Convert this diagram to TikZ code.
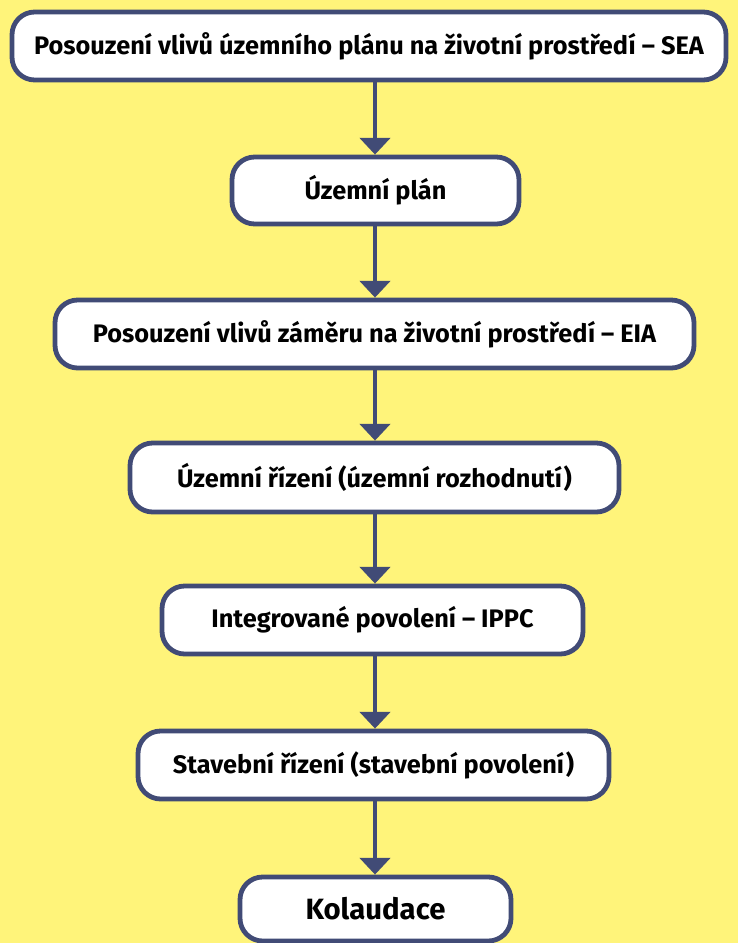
\documentclass[tikz,border=0pt]{standalone}
\usepackage{fontspec}
\setmainfont{Fira Sans}
\usetikzlibrary{arrows.meta}
\definecolor{bgy}{HTML}{FFF47A}
\definecolor{edge}{HTML}{414B76}
\begin{document}
\begin{tikzpicture}[x=0.75pt,y=-0.75pt,
  stepbox/.style={draw=edge,line width=3.6pt,fill=white,rounded corners=17pt,font=\bfseries\fontsize{19}{21}\selectfont,text=black},
  conn/.style={draw=edge,line width=3.6pt,-{Triangle[length=12.5pt,width=22.5pt]}}]
\fill[bgy] (0,0) rectangle (738,943);
\useasboundingbox (0,0) rectangle (738,943);
\node[stepbox,minimum width=714*0.75pt,minimum height=68*0.75pt] (a) at (369,46) {Posouzení vlivů územního plánu na životní prostředí – SEA};
\node[stepbox,minimum width=287*0.75pt,minimum height=67*0.75pt] (b) at (375.5,190.5) {Územní plán};
\node[stepbox,minimum width=639*0.75pt,minimum height=68*0.75pt] (c) at (374.5,334) {Posouzení vlivů záměru na životní prostředí – EIA};
\node[stepbox,minimum width=489*0.75pt,minimum height=69*0.75pt] (d) at (374.5,477.5) {Územní řízení (územní rozhodnutí)};
\node[stepbox,minimum width=421*0.75pt,minimum height=68*0.75pt] (e) at (372.5,620) {Integrované povolení – IPPC};
\node[stepbox,minimum width=471*0.75pt,minimum height=68*0.75pt] (f) at (373.5,765) {Stavební řízení (stavební povolení)};
\node[stepbox,minimum width=271*0.75pt,minimum height=64*0.75pt,font=\bfseries\fontsize{22}{24}\selectfont] (g) at (375.5,909) {Kolaudace};
\foreach \u/\v in {a/b,b/c,c/d,d/e,e/f,f/g}
  \draw[conn] (375,0 |- \u.south) -- (375,0 |- \v.north);
\end{tikzpicture}
\end{document}
